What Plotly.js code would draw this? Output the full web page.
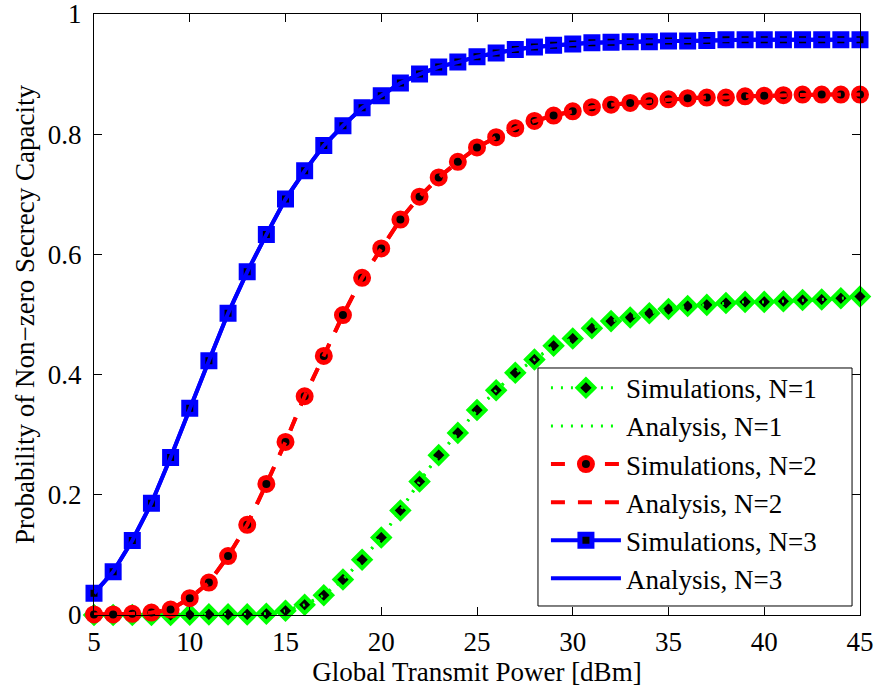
<!DOCTYPE html>
<html>
<head>
<meta charset="utf-8">
<script src="https://cdn.plot.ly/plotly-3.0.1.min.js"></script>
<style>
  html, body { margin: 0; padding: 0; background: #fff; }
  #chart { width: 875px; height: 688px; }
</style>
</head>
<body>
<div id="chart"></div>
<script>
// Global transmit power [dBm]
const powerDbm = [5,6,7,8,9,10,11,12,13,14,15,16,17,18,19,20,21,22,23,24,25,26,27,28,29,30,31,32,33,34,35,36,37,38,39,40,41,42,43,44,45];

// Probability of non-zero secrecy capacity (simulations)
const simN1 = [0,0,0,0,0,0.0005,0.001,0.001,0.001,0.002,0.007,0.017,0.033,0.059,0.092,0.129,0.174,0.222,0.266,0.303,0.341,0.374,0.403,0.425,0.448,0.460,0.477,0.489,0.495,0.502,0.509,0.514,0.516,0.519,0.521,0.521,0.522,0.524,0.525,0.527,0.530];
const simN2 = [0.001,0.001,0.002,0.004,0.009,0.028,0.054,0.098,0.150,0.218,0.288,0.364,0.431,0.499,0.561,0.610,0.658,0.696,0.728,0.754,0.778,0.795,0.810,0.822,0.831,0.838,0.845,0.849,0.852,0.855,0.858,0.860,0.861,0.861,0.863,0.864,0.865,0.866,0.866,0.866,0.866];
const simN3 = [0.036,0.072,0.124,0.186,0.262,0.344,0.423,0.502,0.571,0.633,0.692,0.739,0.781,0.814,0.844,0.864,0.885,0.900,0.912,0.920,0.929,0.935,0.941,0.945,0.948,0.950,0.952,0.953,0.954,0.954,0.955,0.955,0.956,0.957,0.957,0.957,0.957,0.957,0.957,0.957,0.957];

// Analysis curves (coincide with the simulations in the picture)
const anaN1 = simN1.slice();
const anaN2 = simN2.slice();
const anaN3 = simN3.slice();

const xTicks = [5,10,15,20,25,30,35,40,45];
const yTicks = [0,0.2,0.4,0.6,0.8,1];
const yTickText = ['0','0.2','0.4','0.6','0.8','1'];

const GREEN = '#00ff00', RED = '#ff0000', BLUE = '#0000ff';
const FONT = 'Liberation Serif, Times New Roman, serif';

const traces = [
  {
    x: powerDbm, y: simN1, type: 'scatter', mode: 'lines+markers',
    name: 'Simulations, N=1', cliponaxis: false,
    line: {color: GREEN, width: 3, dash: '2px,8px'},
    marker: {symbol: 'diamond', size: 13, color: '#000000', line: {color: GREEN, width: 4}}
  },
  {
    x: powerDbm, y: anaN1, type: 'scatter', mode: 'lines',
    name: 'Analysis, N=1', cliponaxis: false,
    line: {color: GREEN, width: 3, dash: '2px,8px'}
  },
  {
    x: powerDbm, y: simN2, type: 'scatter', mode: 'lines+markers',
    name: 'Simulations, N=2', cliponaxis: false,
    line: {color: RED, width: 4, dash: '14px,13px'},
    marker: {symbol: 'circle', size: 13, color: '#000000', line: {color: RED, width: 5}}
  },
  {
    x: powerDbm, y: anaN2, type: 'scatter', mode: 'lines',
    name: 'Analysis, N=2', cliponaxis: false,
    line: {color: RED, width: 4, dash: '14px,13px'}
  },
  {
    x: powerDbm, y: simN3, type: 'scatter', mode: 'lines+markers',
    name: 'Simulations, N=3', cliponaxis: false,
    line: {color: BLUE, width: 4},
    marker: {symbol: 'square', size: 12, color: '#000000', line: {color: BLUE, width: 5}}
  },
  {
    x: powerDbm, y: anaN3, type: 'scatter', mode: 'lines',
    name: 'Analysis, N=3', cliponaxis: false,
    line: {color: BLUE, width: 4}
  }
];

const layout = {
  width: 875, height: 688,
  margin: {l: 94, r: 15, t: 14, b: 73},
  paper_bgcolor: '#ffffff', plot_bgcolor: '#ffffff',
  font: {family: FONT, size: 27, color: '#000000'},
  showlegend: true,
  xaxis: {
    range: [5, 45], tickmode: 'array', tickvals: xTicks, ticktext: xTicks.map(String),
    ticks: 'inside', ticklen: 8, tickwidth: 1, tickcolor: '#000',
    showline: true, linecolor: '#000', linewidth: 1, mirror: 'ticks',
    showgrid: false, zeroline: false,
    tickfont: {family: FONT, size: 27},
    ticklabelstandoff: 3, ticklabeloverflow: 'allow',
    title: {text: 'Global Transmit Power [dBm]', font: {family: FONT, size: 27}, standoff: 0},
    automargin: false
  },
  yaxis: {
    range: [0, 1], tickmode: 'array', tickvals: yTicks, ticktext: yTickText,
    ticks: 'inside', ticklen: 8, tickwidth: 1, tickcolor: '#000',
    showline: true, linecolor: '#000', linewidth: 1, mirror: 'ticks',
    showgrid: false, zeroline: false,
    tickfont: {family: FONT, size: 27},
    ticklabelstandoff: 6, ticklabeloverflow: 'allow',
    title: {text: 'Probability of Non\u2212zero Secrecy Capacity', font: {family: FONT, size: 27}, standoff: 5},
    automargin: false
  },
  shapes: [{
    type: 'rect', xref: 'paper', yref: 'paper', layer: 'above',
    x0: 0.5796, x1: 0.9896, y0: 0.015, y1: 0.411,
    fillcolor: '#ffffff', line: {color: '#000000', width: 1}
  }],
  legend: {
    x: 0.590, y: 0.418, xanchor: 'left', yanchor: 'top',
    bgcolor: 'rgba(0,0,0,0)', bordercolor: '#000000', borderwidth: 0,
    font: {family: FONT, size: 27, color: '#000'},
    itemwidth: 70, traceorder: 'normal'
  }
};

Plotly.newPlot('chart', traces, layout, {displayModeBar: false, staticPlot: true});
</script>
</body>
</html>
